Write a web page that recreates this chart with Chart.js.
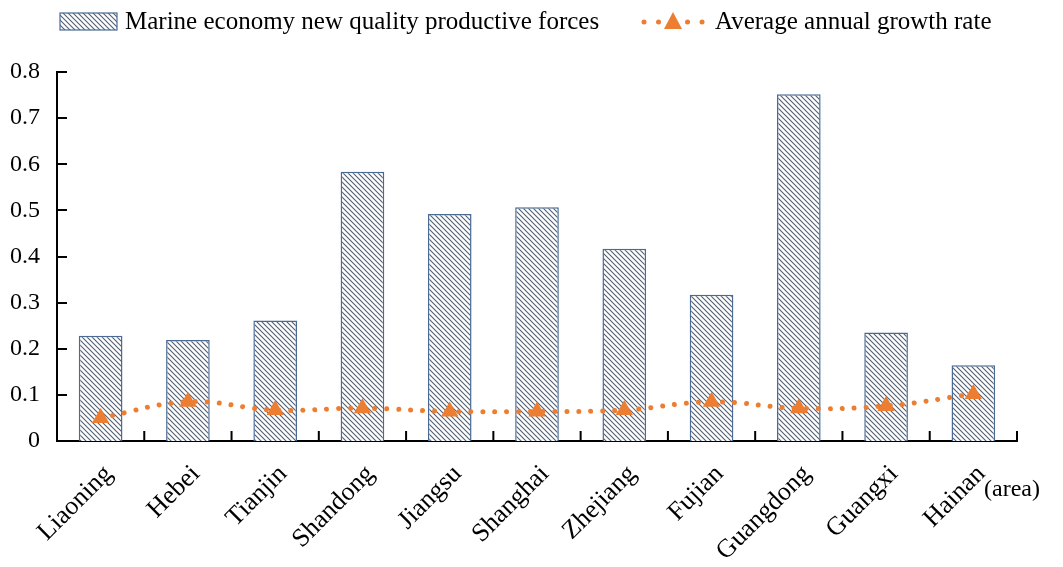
<!DOCTYPE html>
<html>
<head>
<meta charset="utf-8">
<script src="https://cdn.jsdelivr.net/npm/chart.js@4.4.1/dist/chart.umd.min.js"></script>
<style>
  html, body { margin: 0; padding: 0; background: #fff; }
  #wrap { width: 1063px; height: 567px; position: relative; }
</style>
</head>
<body>
<div id="wrap"><canvas id="chart"></canvas></div>
<script>
const areas = ["Liaoning", "Hebei", "Tianjin", "Shandong", "Jiangsu", "Shanghai",
  "Zhejiang", "Fujian", "Guangdong", "Guangxi", "Hainan"];
const productiveForces = [0.228, 0.219, 0.261, 0.584, 0.492, 0.507, 0.417, 0.317, 0.752, 0.235, 0.164];
const growthRate = [0.050, 0.085, 0.067, 0.071, 0.064, 0.064, 0.067, 0.085, 0.071, 0.076, 0.102];
const yTicks = [0, 0.1, 0.2, 0.3, 0.4, 0.5, 0.6, 0.7, 0.8];

const barLabel = "Marine economy new quality productive forces";
const lineLabel = "Average annual growth rate";
const orange = "#ED7D31";
const barBorder = "#4a6a94";
const FONT = "'Liberation Serif', 'Times New Roman', serif";

// diagonal hatch "\\\\" pattern for the bars
function makeHatch() {
  const s = 5;
  const c = document.createElement("canvas");
  c.width = s; c.height = s;
  const g = c.getContext("2d");
  g.fillStyle = "#fff";
  g.fillRect(0, 0, s, s);
  g.strokeStyle = "#4f5e72";
  g.lineWidth = 1.1;
  [-s, 0, s].forEach(off => {
    g.beginPath();
    g.moveTo(-1, -1 + off);
    g.lineTo(s + 1, s + 1 + off);
    g.stroke();
  });
  return g.createPattern(c, "repeat");
}
const hatch = makeHatch();

// inside tick marks, legend and the "(area)" note
const extras = {
  id: "extras",
  afterDatasetsDraw(chart) {
    const ctx = chart.ctx;
    const x = chart.scales.x, y = chart.scales.y;
    const area = chart.chartArea;
    ctx.save();
    ctx.strokeStyle = "#000";
    ctx.lineWidth = 2;
    ctx.beginPath();
    yTicks.forEach(v => {
      const py = Math.round(y.getPixelForValue(v));
      if (v === 0) return;
      ctx.moveTo(area.left, py);
      ctx.lineTo(area.left + 10, py);
    });
    for (let i = 1; i <= areas.length; i++) {
      const px = i < areas.length
        ? (x.getPixelForValue(i - 1) + x.getPixelForValue(i)) / 2
        : area.right;
      ctx.moveTo(px, area.bottom);
      ctx.lineTo(px, area.bottom - 10);
    }
    ctx.stroke();

    // legend
    ctx.font = "25px " + FONT;
    ctx.textBaseline = "middle";
    ctx.textAlign = "left";
    ctx.fillStyle = hatch;
    ctx.fillRect(60, 13, 57, 17);
    ctx.strokeStyle = barBorder;
    ctx.lineWidth = 1.2;
    ctx.strokeRect(60, 13, 57, 17);
    ctx.fillStyle = "#000";
    ctx.fillText(barLabel, 125, 22);

    ctx.strokeStyle = orange;
    ctx.lineWidth = 5;
    ctx.lineCap = "round";
    ctx.setLineDash([0.01, 14.5]);
    ctx.beginPath();
    ctx.moveTo(644, 22);
    ctx.lineTo(704, 22);
    ctx.stroke();
    ctx.setLineDash([]);
    ctx.fillStyle = orange;
    ctx.beginPath();
    ctx.moveTo(673, 12);
    ctx.lineTo(682, 29);
    ctx.lineTo(664, 29);
    ctx.closePath();
    ctx.fill();
    ctx.fillStyle = "#000";
    ctx.fillText(lineLabel, 715, 22);

    ctx.font = "24px " + FONT;
    ctx.fillText("(area)", 984, 490);
    ctx.restore();
  }
};

Chart.defaults.font.family = FONT;
Chart.defaults.font.size = 24;
Chart.defaults.color = "#000";

new Chart(document.getElementById("chart"), {
  data: {
    labels: areas,
    datasets: [
      {
        type: "line",
        label: lineLabel,
        data: growthRate,
        order: 0,
        borderColor: orange,
        borderWidth: 5,
        borderDash: [0.01, 12],
        borderCapStyle: "round",
        tension: 0.4,
        pointStyle: "triangle",
        pointRadius: 10,
        pointBackgroundColor: orange,
        pointBorderColor: orange,
        pointBorderWidth: 0
      },
      {
        type: "bar",
        label: barLabel,
        data: productiveForces,
        order: 1,
        backgroundColor: hatch,
        borderColor: barBorder,
        borderWidth: 1.5,
        barPercentage: 0.5,
        categoryPercentage: 1
      }
    ]
  },
  plugins: [extras],
  options: {
    responsive: true,
    maintainAspectRatio: false,
    animation: false,
    layout: { padding: { top: 72, right: 46, left: 0, bottom: 0 } },
    plugins: { legend: { display: false }, tooltip: { enabled: false } },
    scales: {
      x: {
        offset: true,
        grid: { display: false, drawTicks: false },
        border: { display: true, color: "#000", width: 2 },
        ticks: {
          minRotation: 45, maxRotation: 45, padding: 18, labelOffset: 8,
          autoSkip: false, font: { size: 26 }
        },
        afterFit(axis) { axis.height = 126; }
      },
      y: {
        min: 0,
        max: 0.8,
        grid: { display: false, drawTicks: false },
        border: { display: true, color: "#000", width: 2 },
        afterBuildTicks(axis) { axis.ticks = yTicks.map(v => ({ value: v })); },
        ticks: {
          padding: 17,
          callback: v => (v === 0 ? "0" : v.toFixed(1))
        },
        afterFit(axis) { axis.width = 57; }
      }
    }
  }
});
</script>
</body>
</html>
